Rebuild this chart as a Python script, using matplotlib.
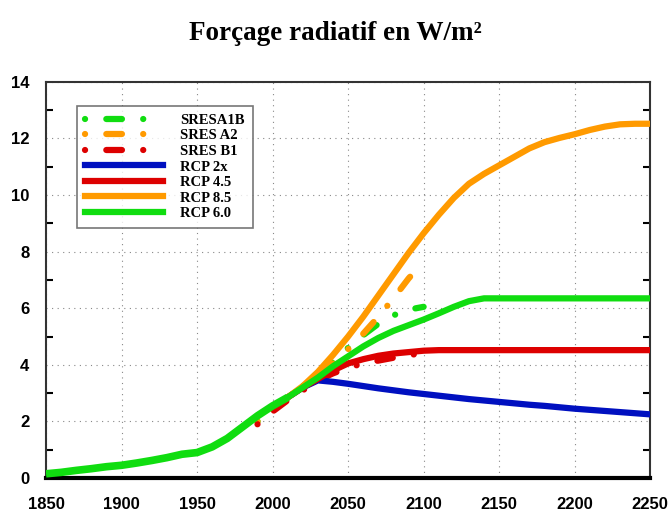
import numpy as np
import matplotlib
matplotlib.use('Agg')
import matplotlib.pyplot as plt
import matplotlib.ticker as ticker

# ---- data (W/m2) ----
hist_years = [1850, 1860, 1870, 1880, 1890, 1900, 1910, 1920, 1930, 1940, 1950, 1960, 1970, 1980, 1990, 2000, 2010]
hist_vals = [0.15, 0.2, 0.27, 0.33, 0.4, 0.45, 0.53, 0.62, 0.72, 0.84, 0.9, 1.1, 1.4, 1.8, 2.2, 2.55, 2.85]

rcp_years = [2010, 2020, 2030, 2040, 2050, 2060, 2070, 2080, 2090, 2100, 2110, 2120, 2130, 2140, 2150,
             2160, 2170, 2180, 2190, 2200, 2210, 2220, 2230, 2240, 2250]
rcp26 = [2.85, 3.2, 3.45, 3.4, 3.33, 3.25, 3.17, 3.1, 3.03, 2.97, 2.91, 2.85, 2.79, 2.74, 2.69,
         2.64, 2.59, 2.55, 2.5, 2.45, 2.41, 2.37, 2.33, 2.29, 2.25]
rcp45 = [2.85, 3.2, 3.5, 3.8, 4.05, 4.2, 4.32, 4.4, 4.45, 4.5, 4.52, 4.52, 4.52, 4.52, 4.52,
         4.52, 4.52, 4.52, 4.52, 4.52, 4.52, 4.52, 4.52, 4.52, 4.52]
rcp60 = [2.85, 3.2, 3.55, 3.95, 4.3, 4.65, 4.95, 5.2, 5.4, 5.6, 5.82, 6.05, 6.25, 6.35, 6.35,
         6.35, 6.35, 6.35, 6.35, 6.35, 6.35, 6.35, 6.35, 6.35, 6.35]
rcp85 = [2.85, 3.25, 3.75, 4.35, 5.0, 5.7, 6.45, 7.2, 7.95, 8.65, 9.3, 9.9, 10.4, 10.75, 11.05,
         11.35, 11.65, 11.87, 12.02, 12.15, 12.3, 12.42, 12.5, 12.52, 12.52]

sres_years = [1990, 2000, 2010, 2020, 2030, 2040, 2050, 2060, 2070, 2080, 2090, 2100]
sres_a1b = [2.0, 2.45, 2.85, 3.25, 3.65, 4.1, 4.6, 5.05, 5.45, 5.75, 5.95, 6.05]
sres_a2 = [2.0, 2.45, 2.85, 3.2, 3.6, 4.05, 4.55, 5.1, 5.7, 6.35, 7.05, 7.65]
sres_b1 = [1.9, 2.35, 2.75, 3.1, 3.45, 3.7, 3.9, 4.05, 4.15, 4.25, 4.35, 4.4]

GREEN = '#10dd10'
ORANGE = '#ff9a00'
RED = '#dd0000'
BLUE = '#0010c0'

fig = plt.figure(figsize=(6.71, 5.15), dpi=100)
ax = fig.add_axes([0.0686, 0.0718, 0.9004, 0.7692])

dashdot = (0, (0.01, 3.4, 2.5, 3.4))
lw = 4.5

# legend order follows the picture
for yy, col, lab in [(sres_a1b, GREEN, 'SRESA1B'), (sres_a2, ORANGE, 'SRES A2'), (sres_b1, RED, 'SRES B1')]:
    ax.plot(sres_years, yy, color=col, lw=lw, ls=dashdot, dash_capstyle='round',
            label=lab, zorder=3)
ax.plot(rcp_years, rcp26, color=BLUE, lw=lw, label='RCP 2x', zorder=4)
ax.plot(rcp_years, rcp45, color=RED, lw=lw, label='RCP 4.5', zorder=4)
ax.plot(rcp_years, rcp85, color=ORANGE, lw=lw, label='RCP 8.5', zorder=4)
ax.plot(rcp_years, rcp60, color=GREEN, lw=lw, label='RCP 6.0', zorder=5)
ax.plot(hist_years, hist_vals, color=GREEN, lw=lw + 1, zorder=5, solid_capstyle='butt')

ax.set_xlim(1850, 2250)
ax.set_ylim(0, 14)
ax.xaxis.set_major_locator(ticker.MultipleLocator(50))
ax.yaxis.set_major_locator(ticker.MultipleLocator(2))
ax.yaxis.set_minor_locator(ticker.MultipleLocator(1))
ax.tick_params(axis='both', which='both', direction='in', top=True, right=True)
ax.tick_params(which='major', length=0, pad=12)
ax.tick_params(which='minor', length=5, width=1.5)
ax.tick_params(axis='x', which='major', pad=14)
ax.grid(True, which='major', ls=(0, (1, 4)), color='#888888', lw=0.8)

for lab in ax.get_xticklabels() + ax.get_yticklabels():
    lab.set_fontfamily('Liberation Sans')
    lab.set_fontweight('bold')
    lab.set_fontsize(12)

for side in ['top', 'left', 'right']:
    ax.spines[side].set_linewidth(1.5)
    ax.spines[side].set_color('#333333')
ax.spines['bottom'].set_linewidth(3)
ax.spines['bottom'].set_color('black')

leg = ax.legend(loc='upper left', bbox_to_anchor=(0.052, 0.94), handlelength=5.3,
                prop={'family': 'Liberation Serif', 'weight': 'bold', 'size': 10.5},
                frameon=True, fancybox=False, borderpad=0.55, labelspacing=0.16,
                handletextpad=1.2, borderaxespad=0)
leg.get_frame().set_edgecolor('#555555')
leg.get_frame().set_linewidth(1.2)

fig.text(0.5, 0.935, 'Forçage radiatif en W/m²', ha='center', va='center',
         fontfamily='Liberation Serif', fontweight='bold', fontsize=19.5)

fig.savefig('out.png', dpi=100)
